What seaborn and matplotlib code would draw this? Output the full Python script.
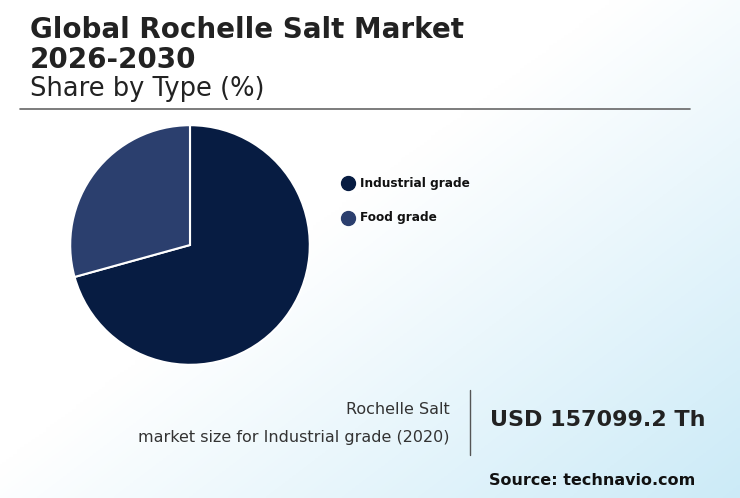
import numpy as np
import matplotlib
matplotlib.use("Agg")
import matplotlib.pyplot as plt
import seaborn as sns

sns.set_style("white")
plt.rcParams['font.family'] = ['DejaVu Sans']

types = ['Industrial grade', 'Food grade']
shares = [70.7, 29.3]
colors = ['#071c42', '#2b3f6e']

fig = plt.figure(figsize=(7.4, 4.98), dpi=100)

# background gradient
bg = fig.add_axes([0, 0, 1, 1])
x = np.linspace(0, 1, 200)
y = np.linspace(0, 1, 200)
X, Y = np.meshgrid(x, y)
t = np.clip((X * 0.9 + Y * 0.8) - 0.75, 0, 1) / 0.95
c0 = np.array([1.0, 1.0, 1.0])
c1 = np.array([0.80, 0.92, 0.97])
img = c0 + (c1 - c0) * t[..., None]
bg.imshow(img, extent=[0, 1, 0, 1], aspect='auto', origin='upper')
bg.axis('off')

fig.text(30 / 740, 1 - 30 / 498, 'Global Rochelle Salt Market', fontsize=20, fontweight='bold', color='#222222', va='center')
fig.text(30 / 740, 1 - 60 / 498, '2026-2030', fontsize=20, fontweight='bold', color='#222222', va='center')
fig.text(30 / 740, 1 - 89 / 498, 'Share by Type (%)', fontsize=18.5, color='#222222', va='center')
bg.plot([20 / 740, 690 / 740], [1 - 109 / 498, 1 - 109 / 498], color='#666666', lw=1.2)

ax = fig.add_axes([(190 - 121) / 740, 1 - (245 + 121) / 498, 242 / 740, 242 / 498])
ax.pie(shares, colors=colors, startangle=90, counterclock=False, radius=1,
       wedgeprops=dict(edgecolor='white', linewidth=1.5))
ax.set_xlim(-1.01, 1.01)
ax.set_ylim(-1.01, 1.01)
ax.set_aspect('equal')

for i, (lab, col) in enumerate(zip(types, colors)):
    yy = 1 - (183 + 35 * i) / 498
    bg.scatter([348 / 740], [yy], s=100, color=col, transform=bg.transAxes)
    fig.text(360 / 740, yy, lab, fontsize=8.7, fontweight='bold', color='#111111', va='center')

fig.text(450 / 740, 1 - 409 / 498, 'Rochelle Salt', fontsize=11.5, color='#333333', ha='right', va='center')
fig.text(450 / 740, 1 - 437 / 498, 'market size for Industrial grade (2020)', fontsize=11.5, color='#333333', ha='right', va='center')
bg.plot([470 / 740, 470 / 740], [1 - 390 / 498, 1 - 455 / 498], color='#555555', lw=1)
fig.text(490 / 740, 1 - 420 / 498, 'USD 157099.2 Th', fontsize=16, fontweight='bold', color='#222222', va='center')
fig.text(695 / 740, 1 - 480 / 498, 'Source: technavio.com', fontsize=11.5, fontweight='bold', color='#111111', ha='right', va='center')
bg.set_xlim(0, 1)
bg.set_ylim(0, 1)

fig.savefig('out.png', dpi=100)
